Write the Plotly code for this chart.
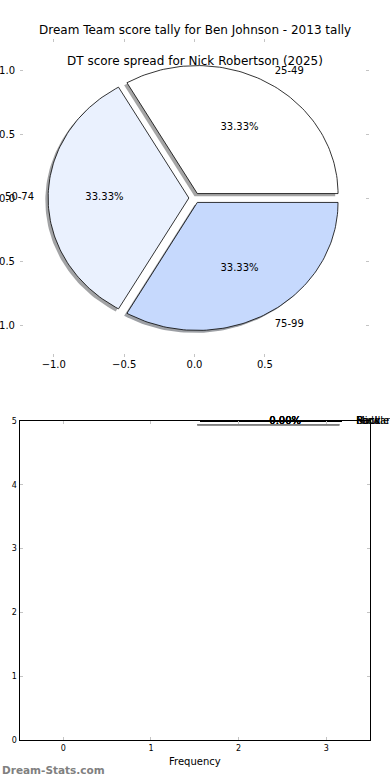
import numpy as np
import plotly.graph_objects as go

# ---------------- data ----------------
spread_labels = ["25-49", "50-74", "75-99"]
spread_counts = [1, 1, 1]
spread_colors = ["#ffffff", "#eaf1fe", "#c6d9fd"]

position_labels = ["Back", "Middle", "Ruck", "Forward"]
position_counts = [0, 0, 0, 0]

pie_ticks_x = [-1.0, -0.5, 0.0, 0.5]
pie_ticks_y = [-1.0, -0.5, 0.0, 0.5, 1.0]
freq_ticks = [0, 1, 2, 3]
count_ticks = [0, 1, 2, 3, 4, 5]

title_main = "Dream Team score tally for Ben Johnson - 2013 tally"
title_sub = "DT score spread for Nick Robertson (2025)"
watermark = "Dream-Stats.com"

FONT = "DejaVu Sans"
W, H = 390, 780


def px_x(p):
    return p / W


def px_y(p):
    return 1 - p / H


def wedge_geometry(values, explode, center=(0.0, 0.0), radius=1.0):
    vals = np.asarray(values, dtype=float)
    total = vals.sum()
    fracs = vals / total if total > 0 else np.zeros_like(vals)
    out = []
    cum = 0.0
    for f in fracs:
        t1 = 360.0 * cum
        t2 = 360.0 * (cum + f)
        cum += f
        tm = np.deg2rad((t1 + t2) / 2)
        cx = center[0] + explode * radius * np.cos(tm)
        cy = center[1] + explode * radius * np.sin(tm)
        th = np.deg2rad(np.linspace(t1, t2, 90))
        xs = np.concatenate([[cx], cx + radius * np.cos(th), [cx]])
        ys = np.concatenate([[cy], cy + radius * np.sin(th), [cy]])
        out.append(dict(x=xs, y=ys, cx=cx, cy=cy, tm=tm, frac=f))
    return out


fig = go.Figure()

# ---------------- top pie ----------------
wedges = wedge_geometry(spread_counts, 0.04)
# shadows first
for w, col in zip(wedges, spread_colors):
    r = int(col[1:3], 16); g = int(col[3:5], 16); b = int(col[5:7], 16)
    fig.add_trace(go.Scatter(
        x=w["x"] - 0.02, y=w["y"] - 0.02, mode="lines", fill="toself",
        fillcolor=f"rgba({int(0.3*r)},{int(0.3*g)},{int(0.3*b)},0.5)",
        line=dict(width=0), hoverinfo="skip", showlegend=False,
        xaxis="x", yaxis="y"))
for w, col in zip(wedges, spread_colors):
    fig.add_trace(go.Scatter(
        x=w["x"], y=w["y"], mode="lines", fill="toself", fillcolor=col,
        line=dict(color="black", width=0.8), hoverinfo="skip",
        showlegend=False, xaxis="x", yaxis="y"))
for w, lab in zip(wedges, spread_labels):
    lx = w["cx"] + 1.1 * np.cos(w["tm"])
    ly = w["cy"] + 1.1 * np.sin(w["tm"])
    fig.add_trace(go.Scatter(
        x=[lx], y=[ly], mode="text", text=[lab],
        textposition="middle right" if lx > 0 else "middle left",
        textfont=dict(family=FONT, size=10, color="black"),
        cliponaxis=False, hoverinfo="skip", showlegend=False,
        xaxis="x", yaxis="y"))
    fig.add_trace(go.Scatter(
        x=[w["cx"] + 0.6 * np.cos(w["tm"])], y=[w["cy"] + 0.6 * np.sin(w["tm"])],
        mode="text", text=["%.2f%%" % (100 * w["frac"])],
        textposition="middle center",
        textfont=dict(family=FONT, size=10, color="black"),
        cliponaxis=False, hoverinfo="skip", showlegend=False,
        xaxis="x", yaxis="y"))

# ---------------- bottom degenerate pie ----------------
bwedges = wedge_geometry(position_counts, 0.0, center=(1.56, 5.0), radius=1.62)
for w in bwedges:
    fig.add_trace(go.Scatter(
        x=w["x"] - 0.03, y=w["y"] - 0.06, mode="lines",
        line=dict(color="rgba(128,128,128,0.8)", width=1.5),
        hoverinfo="skip", showlegend=False, xaxis="x2", yaxis="y2"))
for w in bwedges:
    fig.add_trace(go.Scatter(
        x=w["x"], y=w["y"], mode="lines", line=dict(color="black", width=2),
        hoverinfo="skip", showlegend=False, xaxis="x2", yaxis="y2"))
for w, lab in zip(bwedges, position_labels):
    fig.add_trace(go.Scatter(
        x=[w["cx"] + 1.1 * 1.62 * np.cos(w["tm"])], y=[w["cy"]],
        mode="text", text=[lab], textposition="middle right",
        textfont=dict(family=FONT, size=10, color="black"),
        cliponaxis=False, hoverinfo="skip", showlegend=False,
        xaxis="x2", yaxis="y2"))
    fig.add_trace(go.Scatter(
        x=[w["cx"] + 0.6 * 1.62 * np.cos(w["tm"])], y=[w["cy"]],
        mode="text", text=["%.2f%%" % (100 * w["frac"])],
        textposition="middle center",
        textfont=dict(family=FONT, size=10, color="black"),
        cliponaxis=False, hoverinfo="skip", showlegend=False,
        xaxis="x2", yaxis="y2"))

tickstyle = dict(ticks="inside", ticklen=3, tickwidth=1, tickcolor="#c4c4c4",
                 showgrid=False, zeroline=False, automargin=False)

fig.update_layout(
    width=W, height=H, margin=dict(l=0, r=0, t=0, b=0),
    paper_bgcolor="white", plot_bgcolor="rgba(0,0,0,0)",
    showlegend=False,
    xaxis=dict(domain=[px_x(20), px_x(369)], range=[-1.24, 1.24],
               tickvals=pie_ticks_x, tickformat=".1f", showline=False,
               mirror="ticks", anchor="y",
               tickfont=dict(family=FONT, size=10, color="black"),
               **tickstyle),
    yaxis=dict(domain=[px_y(356.7), px_y(39.3)], range=[-1.24, 1.24],
               tickvals=pie_ticks_y, tickformat=".1f", showline=False,
               mirror="ticks", anchor="x", ticklabelstandoff=4,
               tickfont=dict(family=FONT, size=10, color="black"),
               **tickstyle),
    xaxis2=dict(domain=[px_x(19.5), px_x(370)], range=[-0.5, 3.5],
                tickvals=freq_ticks, showline=True, linecolor="black",
                linewidth=1, mirror="ticks", anchor="y2",
                tickfont=dict(family=FONT, size=8, color="black"),
                **tickstyle),
    yaxis2=dict(domain=[px_y(740), px_y(421)], range=[0, 5],
                tickvals=count_ticks, showline=True, linecolor="black",
                linewidth=1, mirror="ticks", anchor="x2",
                tickfont=dict(family=FONT, size=8, color="black"),
                **tickstyle),
    annotations=[
        dict(text=title_main, x=0.5, y=px_y(30), xref="paper", yref="paper",
             showarrow=False, xanchor="center", yanchor="middle",
             font=dict(family=FONT, size=12, color="black")),
        dict(text=title_sub, x=0.5, y=px_y(61), xref="paper", yref="paper",
             showarrow=False, xanchor="center", yanchor="middle",
             font=dict(family=FONT, size=12, color="black")),
        dict(text="Frequency", x=px_x(194.5), y=px_y(761), xref="paper",
             yref="paper", showarrow=False, xanchor="center",
             yanchor="middle", font=dict(family=FONT, size=10, color="black")),
        dict(text="<b>" + watermark + "</b>", x=0, y=px_y(770), xref="paper",
             yref="paper", showarrow=False, xanchor="left", yanchor="middle",
             font=dict(family=FONT, size=10.5, color="#808080")),
    ],
)

fig.write_html(
    "out.html",
    config={"displayModeBar": False},
    post_script="document.body.style.margin='0';document.body.style.overflow='hidden';",
)
